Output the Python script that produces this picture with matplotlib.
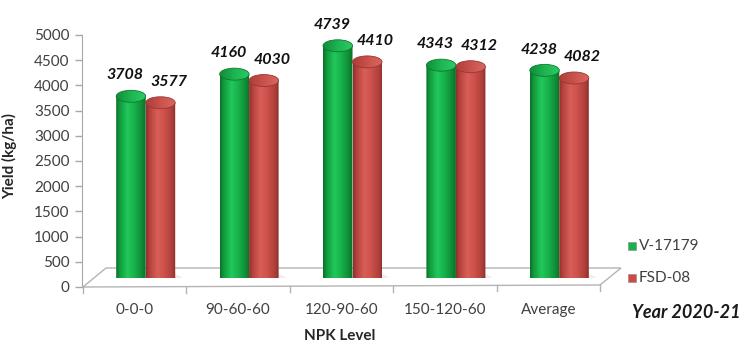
import numpy as np
import matplotlib
matplotlib.use("Agg")
import matplotlib.pyplot as plt
from matplotlib.colors import LinearSegmentedColormap
from matplotlib.patches import PathPatch, Ellipse, Polygon, Rectangle
from matplotlib.path import Path

# ---- data -------------------------------------------------------------
categories = ["0-0-0", "90-60-60", "120-90-60", "150-120-60", "Average"]
v17179 = [3708, 4160, 4739, 4343, 4238]
fsd08 = [3577, 4030, 4410, 4312, 4082]
series_names = ["V-17179", "FSD-08"]
y_ticks = list(range(0, 5001, 500))

# ---- figure -----------------------------------------------------------
W, H = 748, 345
fig = plt.figure(figsize=(W / 100, H / 100), dpi=100)
plt.rcParams["font.family"] = ["Lato", "DejaVu Sans"]

# pixel frame of the plotting plane (mid-depth of the 3D floor)
X0, X1 = 94, 611     # left/right of category span
Y0, Y1 = 278, 33     # value 0 and value 5000
YMAX = 5000
DEPTH = 11           # horizontal shift between front edge and mid-depth
n = len(categories)


def fx(px):
    return px / W


def fy(py):
    return (H - py) / H


ax = fig.add_axes([fx(X0), fy(Y0), (X1 - X0) / W, (Y0 - Y1) / H])
ax.set_xlim(0, n)
ax.set_ylim(0, YMAX)
ax.set_autoscale_on(False)
ax.axis("off")


def dx(px):
    return (px - X0) / (X1 - X0) * n


def dy(py):
    return (Y0 - py) / (Y0 - Y1) * YMAX


def ddx(dpx):
    return dpx / (X1 - X0) * n


def ddy(dpx):
    return dpx / (Y0 - Y1) * YMAX


# ---- floor --------------------------------------------------------------
floor = Polygon([(dx(83), dy(287)), (dx(600), dy(285)), (dx(621), dy(268)), (dx(106), dy(268))],
                closed=True, facecolor="white", edgecolor="#b4b4b4", lw=1.0,
                clip_on=False, zorder=1)
ax.add_patch(floor)

# front-edge tick marks at category boundaries
for i in range(n + 1):
    px = 83 + i * (600 - 83) / n
    py = 287 - i * 2 / n
    ax.plot([dx(px), dx(px)], [dy(py), dy(py + 6)], color="#b4b4b4", lw=1.0,
            clip_on=False, zorder=1)

# ---- cylinders ------------------------------------------------------------
green_cmap = LinearSegmentedColormap.from_list(
    "g", [(0.0, "#0b6f2a"), (0.12, "#109a3c"), (0.38, "#22c85c"), (0.6, "#18b34c"),
          (0.88, "#0e8a35"), (1.0, "#0a6a27")])
red_cmap = LinearSegmentedColormap.from_list(
    "r", [(0.0, "#8f2f2b"), (0.12, "#b5423d"), (0.38, "#d95f59"), (0.6, "#cf524c"),
          (0.88, "#ad3f3a"), (1.0, "#8a2d29")])
green_top = LinearSegmentedColormap.from_list("gt", ["#118e38", "#1eb552", "#2ccc63"])
red_top = LinearSegmentedColormap.from_list("rt", ["#ad3e39", "#c9524c", "#db6761"])

bar_w = ddx(29.5)
eh = ddy(6.0)          # half height of the end ellipses
grad = np.linspace(0, 1, 128).reshape(1, -1)


def cylinder(xl, value, cmap, tcmap, edge):
    xr = xl + bar_w
    xc = (xl + xr) / 2
    a = bar_w / 2
    th = np.linspace(np.pi, 2 * np.pi, 60)
    verts = [(xl, value), (xl, 0)]
    verts += [(xc + a * np.cos(t), eh * np.sin(t)) for t in th]
    verts += [(xr, value), (xl, value)]
    codes = [Path.MOVETO] + [Path.LINETO] * (len(verts) - 2) + [Path.CLOSEPOLY]
    body = PathPatch(Path(verts, codes), facecolor="none", edgecolor="none",
                     transform=ax.transData, zorder=3)
    ax.add_patch(body)
    im = ax.imshow(grad, cmap=cmap, extent=[xl, xr, -eh, value], aspect="auto",
                   interpolation="bilinear", zorder=3)
    im.set_clip_path(body)
    top = Ellipse((xc, value), bar_w, 2 * eh, facecolor="none", edgecolor="none",
                  transform=ax.transData, zorder=4)
    ax.add_patch(top)
    tim = ax.imshow(grad, cmap=tcmap, extent=[xl, xr, value - eh, value + eh],
                    aspect="auto", interpolation="bilinear", zorder=4)
    tim.set_clip_path(top)
    ax.add_patch(Ellipse((xc, value), bar_w, 2 * eh, facecolor="none",
                         edgecolor=edge, lw=0.6, zorder=5))


label_style = dict(textcoords="offset points", ha="center", va="center",
                   fontsize=11.5, fontweight="bold", fontstyle="italic",
                   color="#111111", zorder=6)
for i in range(n):
    c = i + 0.5
    # soft floor shadow
    ax.add_patch(Ellipse((c + ddx(3), -ddy(1)), 2 * bar_w + ddx(8), 2 * eh + ddy(4),
                         facecolor="#d9c8c8", edgecolor="none", alpha=0.35, zorder=2))
    cylinder(c - bar_w, v17179[i], green_cmap, green_top, "#0c7a2e")
    cylinder(c, fsd08[i], red_cmap, red_top, "#9a3531")
    ax.annotate(f"{v17179[i]}", (c - bar_w / 2, v17179[i]), xytext=(-4, 15),
                **label_style)
    ax.annotate(f"{fsd08[i]}", (c + bar_w / 2, fsd08[i]), xytext=(6, 15),
                **label_style)
    # category names sit under the front edge of the floor
    ax.text(c - ddx(DEPTH), dy(310), categories[i], ha="center", va="center",
            fontsize=11, color="#404040", clip_on=False)

# ---- value axis on the front plane ------------------------------------------
ay = fig.add_axes([fx(82), fy(287), 0.0001, (287 - 35) / H])
ay.set_ylim(0, YMAX)
ay.set_yticks(y_ticks)
ay.set_xticks([])
for s in ["top", "right", "bottom"]:
    ay.spines[s].set_visible(False)
ay.spines["left"].set_color("#a8a8a8")
ay.tick_params(axis="y", direction="out", length=5, width=1, color="#a8a8a8",
               labelsize=11, labelcolor="#404040", pad=4)
ay.patch.set_visible(False)

# ---- titles and legend --------------------------------------------------------
fig.text(fx(10), fy(156), "Yield (kg/ha)", rotation=90, ha="center", va="center",
         fontsize=11, fontweight="bold", color="#262626")
fig.text(fx(340), fy(336), "NPK Level", ha="center", va="center",
         fontsize=11, fontweight="bold", color="#262626")
fig.text(fx(632), fy(313), "Year 2020-21", ha="left", va="center",
         fontsize=13, fontweight="bold", fontstyle="italic", color="#1a1a1a")

legend_colors = ["#17b04a", "#cc4b46"]
for k, (name, col) in enumerate(zip(series_names, legend_colors)):
    py = 246 + k * 32
    fig.patches.append(Rectangle((fx(628), fy(py + 4)), 8 / W, 8 / H,
                                 transform=fig.transFigure, facecolor=col,
                                 edgecolor="#8a8a8a", lw=0.4))
    fig.text(fx(639), fy(py), name, ha="left", va="center", fontsize=11,
             color="#404040")

fig.savefig("out.png", dpi=100)
